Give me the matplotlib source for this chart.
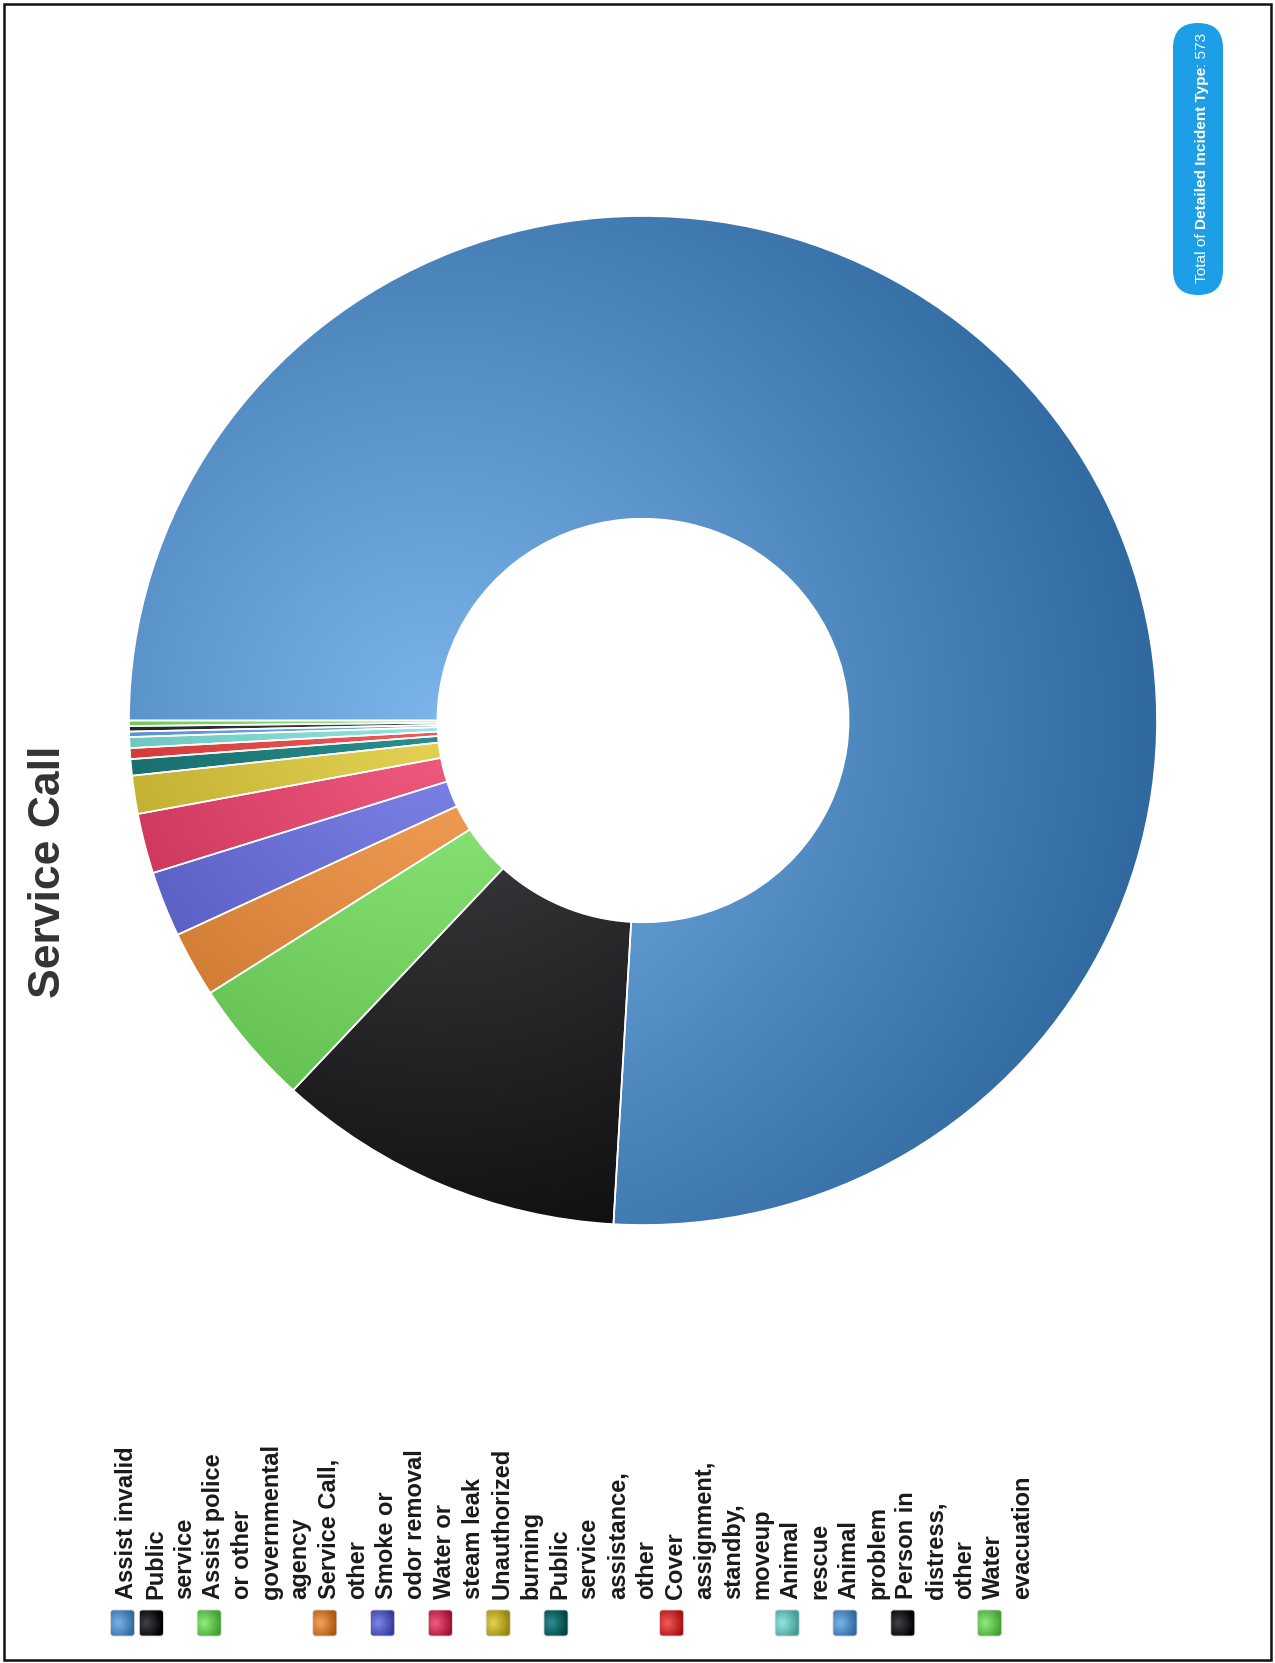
import matplotlib
matplotlib.use('Agg')
import matplotlib.pyplot as plt
import numpy as np
from matplotlib.patches import FancyBboxPatch, Rectangle
from matplotlib.colors import to_rgb

plt.rcParams['font.family'] = ['Liberation Sans', 'DejaVu Sans']

W, H = 1275, 1663

title = "Service Call"
# legend text, already wrapped the way the legend breaks it
legend_lines = [
    ["Assist invalid"],
    ["Public", "service"],
    ["Assist police", "or other", "governmental", "agency"],
    ["Service Call,", "other"],
    ["Smoke or", "odor removal"],
    ["Water or", "steam leak"],
    ["Unauthorized", "burning"],
    ["Public", "service", "assistance,", "other"],
    ["Cover", "assignment,", "standby,", "moveup"],
    ["Animal", "rescue"],
    ["Animal", "problem"],
    ["Person in", "distress,", "other"],
    ["Water", "evacuation"],
]
labels = [" ".join(l) for l in legend_lines]
counts = [435, 63, 23, 12, 12, 11, 7, 3, 2, 2, 1, 1, 1]
colors = ["#7cb5ec", "#434348", "#90ed7d", "#f7a35c", "#8085e9", "#f15c80",
          "#e4d354", "#2b908f", "#f45b5b", "#91e8e1", "#7cb5ec", "#434348",
          "#90ed7d"]
badge_parts = ["Total of", "Detailed Incident Type", ": " + str(sum(counts))]


def shade(color, t):
    # radial gradient: base colour in the middle, darkened by 0.3 at the rim
    base = np.array(to_rgb(color))
    dark = np.clip(base - 76 / 255, 0, 1)
    return base + (dark - base) * t[..., None]


fig = plt.figure(figsize=(W / 100, H / 100), dpi=100)

# donut
ax = fig.add_axes([129 / W, 1 - 1225 / H, 1028 / W, 1009 / H])
wedges, _ = ax.pie(counts, colors=colors, startangle=180, counterclock=False,
                   radius=1, wedgeprops=dict(width=0.6, edgecolor='white', linewidth=1.2))
gx, gy = np.meshgrid(np.linspace(-1, 1, 700), np.linspace(1, -1, 700))
tt = np.clip(np.hypot(gx + 0.4, gy) / 1.4, 0, 1)
for w, c in zip(wedges, colors):
    img = ax.imshow(shade(c, tt), extent=(-1, 1, -1, 1), aspect='auto',
                    interpolation='bilinear', zorder=1)
    img.set_clip_path(w)
    w.set_facecolor('none')
    w.set_zorder(2)
ax.set_aspect('auto')
ax.set_xlim(-1, 1)
ax.set_ylim(-1, 1)
ax.axis('off')

# overlay in pixel units for the texts, legend and frame
ov = fig.add_axes([0, 0, 1, 1], zorder=3)
ov.patch.set_alpha(0)

ov.add_patch(Rectangle((4, 4), W - 8, H - 7, fill=False, edgecolor='#111111', linewidth=1.8))

ov.text(60, 872, title, rotation=90, rotation_mode='anchor', ha='center',
        va='baseline', fontsize=32, fontweight='bold', color='#333333')

# legend
x0, dx = 133, 28.9
mu, mv = np.meshgrid(np.linspace(0, 1, 30), np.linspace(0, 1, 30))
mt = np.clip(np.hypot(mu - 0.3, mv - 0.5) / 0.7, 0, 1)
k = 0
for lines, c in zip(legend_lines, colors):
    mx = x0 + k * dx - 10.5
    box = FancyBboxPatch((mx - 12, 1610), 24, 26, boxstyle='round,pad=0,rounding_size=3',
                         facecolor='none', edgecolor='#d0d0d0', linewidth=0.6, zorder=4)
    ov.add_patch(box)
    mimg = ov.imshow(shade(c, mt), extent=(mx - 12, mx + 12, 1636, 1610), aspect='auto',
                     interpolation='bilinear', zorder=3)
    mimg.set_clip_path(box)
    for line in lines:
        ov.text(x0 + k * dx, 1599, line, rotation=90, rotation_mode='anchor', ha='left',
                va='baseline', fontsize=17, fontweight='bold', color='#1a1a1a')
        k += 1

# total badge
ov.add_patch(FancyBboxPatch((1173, 23), 50, 272, boxstyle='round,pad=0,rounding_size=25',
                            facecolor='#1c9fe6', edgecolor='none'))
ov.set_xlim(0, W)
ov.set_ylim(H, 0)
ov.axis('off')

renderer = fig.canvas.get_renderer()
y = 283
for i, part in enumerate(badge_parts):
    txt = ov.text(1206, y, part, rotation=90, rotation_mode='anchor', ha='left',
                  va='baseline', fontsize=11.1, color='white',
                  fontweight='bold' if i == 1 else 'normal')
    y -= txt.get_window_extent(renderer).height
    if i == 0:
        y -= 4

fig.savefig('out.png', dpi=100, facecolor='white')
